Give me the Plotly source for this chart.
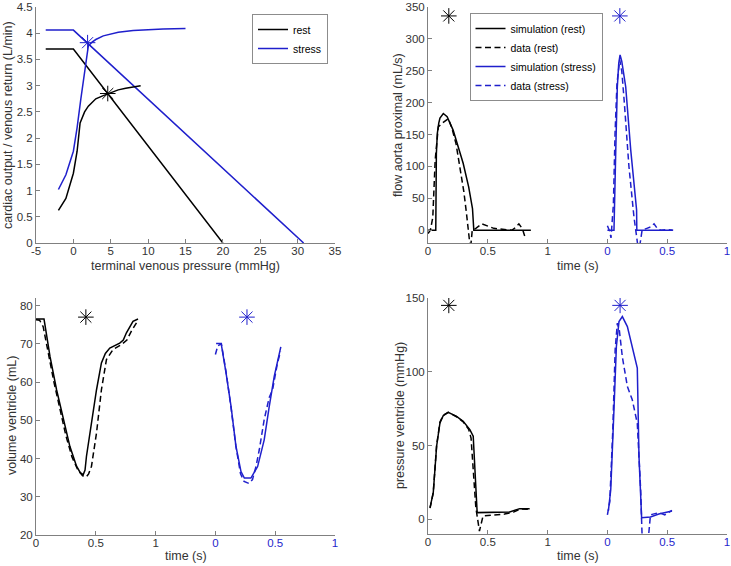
import numpy as np
import plotly.graph_objects as go

W, H = 731, 566
BLUE = "#1f1fcc"
BLACK = "#000000"
AXC = "#808080"
TXT = "#333333"
FONT = "Liberation Sans, Arial, Helvetica, sans-serif"

# ---------------- Panel 1: cardiac output / venous return ----------------
vr_rest_x = [-3.7, 0, 20]
vr_rest_y = [3.70, 3.70, 0]
vr_stress_x = [-3.7, 0, 30.8]
vr_stress_y = [4.06, 4.06, 0]
co_rest_x = [-2, -1, 0, 0.5, 0.9, 1.5, 2, 3, 4, 5, 6, 7, 8, 9]
co_rest_y = [0.62, 0.85, 1.33, 1.75, 2.29, 2.50, 2.61, 2.75, 2.81, 2.87, 2.92, 2.95, 2.98, 3.00]
co_stress_x = [-2, -1, 0, 0.5, 1, 1.5, 2, 2.5, 3, 4, 5, 6, 8, 10, 12, 15]
co_stress_y = [1.02, 1.30, 1.75, 2.20, 2.75, 3.30, 3.76, 3.83, 3.88, 3.95, 3.99, 4.02, 4.05, 4.07, 4.08, 4.09]
eq_rest = (4.6, 2.85)
eq_stress = (1.9, 3.82)
p1_xticks = [-5, 0, 5, 10, 15, 20, 25, 30, 35]
p1_xlabels = ["-5", "0", "5", "10", "15", "20", "25", "30", "35"]
p1_yticks = [0, 0.5, 1, 1.5, 2, 2.5, 3, 3.5, 4, 4.5]
p1_ylabels = ["0", "0.5", "1", "1.5", "2", "2.5", "3", "3.5", "4", "4.5"]

# ---------------- Panel 2: flow aorta proximal ----------------
flow_sim_rest_t = [0, 0.065, 0.07, 0.078, 0.09, 0.10, 0.128, 0.16, 0.21, 0.25, 0.294, 0.34, 0.372, 0.383, 0.86]
flow_sim_rest_y = [0, 0, 120, 152, 168, 176, 183, 178, 157, 133, 105, 68, 34, 0, 0]
flow_dat_rest_t = [0, 0.02, 0.04, 0.06, 0.086, 0.12, 0.17, 0.20, 0.235, 0.267, 0.30, 0.322, 0.34, 0.355,
                   0.37, 0.40, 0.45, 0.50, 0.55, 0.60, 0.65, 0.70, 0.73, 0.76, 0.79, 0.81]
flow_dat_rest_y = [-5, 0, 20, 110, 162, 168, 175, 160, 135, 100, 60, 26, 0, -30,
                   0, 3, 10, 6, 3, 2, 1, 0, 4, 10, 2, -10]
flow_sim_stress_t = [0, 0.055, 0.07, 0.083, 0.095, 0.106, 0.12, 0.153, 0.195, 0.236, 0.244, 0.246, 0.545]
flow_sim_stress_y = [0, 0, 126, 225, 262, 275, 265, 225, 126, 47, 32, 0, 0]
flow_dat_stress_t = [0, 0.02, 0.03, 0.05, 0.064, 0.08, 0.103, 0.12, 0.14, 0.18, 0.222, 0.24, 0.255, 0.27,
                     0.29, 0.33, 0.36, 0.39, 0.42, 0.45, 0.50, 0.55]
flow_dat_stress_y = [7, -2, -12, 40, 152, 230, 267, 250, 204, 100, 21, 0, -25, -25,
                     0, 3, 5, 10, 2, 0, 1, 0]
flow_star = (0.174, 0.104, 336)

# ---------------- Panel 3: volume ventricle ----------------
vol_sim_rest_t = [0, 0.067, 0.09, 0.117, 0.172, 0.228, 0.283, 0.339, 0.37, 0.395, 0.41, 0.422, 0.464,
                  0.506, 0.547, 0.58, 0.617, 0.66, 0.70, 0.73, 0.756, 0.811, 0.853]
vol_sim_rest_y = [76.5, 76.5, 72, 66.7, 58, 50.2, 43.2, 38, 36.3, 35.8, 37, 40.6, 49.3,
                  58, 65, 67.5, 68.9, 69.6, 70.2, 71, 72.9, 75.9, 76.5]
vol_dat_rest_t = [0, 0.03, 0.06, 0.10, 0.15, 0.20, 0.25, 0.30, 0.35, 0.39, 0.42, 0.44, 0.464,
                  0.506, 0.547, 0.589, 0.644, 0.714, 0.76, 0.80, 0.84]
vol_dat_rest_y = [76.3, 76.2, 74.5, 68, 60, 53, 46, 40.5, 37, 35.5, 35.2, 36, 38,
                  46.7, 58, 65.9, 68.5, 69.8, 71, 73.5, 75.5]
vol_sim_stress_t = [0.006, 0.048, 0.089, 0.131, 0.172, 0.214, 0.242, 0.297, 0.353, 0.408, 0.45, 0.492, 0.547]
vol_sim_stress_y = [70.1, 70.1, 62.4, 53.6, 43.2, 36.6, 34.9, 34.9, 37.9, 44.9, 53.6, 61.5, 69.2]
vol_dat_stress_t = [0, 0.02, 0.05, 0.09, 0.13, 0.17, 0.21, 0.24, 0.28, 0.31, 0.34, 0.367, 0.408,
                    0.45, 0.478, 0.519, 0.545]
vol_dat_stress_y = [67.2, 69.5, 70, 62.5, 53.5, 43.5, 36, 34, 33.5, 34.5, 38, 42.3, 50.2,
                    56, 58, 65, 68]
vol_star = (0.417, 0.264, 77)

# ---------------- Panel 4: pressure ventricle ----------------
p_sim_rest_t = [0.017, 0.044, 0.072, 0.10, 0.128, 0.169, 0.239, 0.294, 0.35, 0.378, 0.411, 0.683, 0.767, 0.85]
p_sim_rest_y = [7.9, 18, 49.5, 65.3, 70.3, 72.5, 69.8, 66.4, 60.8, 56.3, 4.5, 5, 7.2, 7.2]
p_dat_rest_t = [0.017, 0.044, 0.072, 0.10, 0.128, 0.169, 0.239, 0.294, 0.34, 0.36, 0.40, 0.43, 0.46,
                0.55, 0.64, 0.72, 0.77, 0.85]
p_dat_rest_y = [7.5, 18, 50, 66, 70.5, 72.5, 69.5, 66, 61, 55, 8, -8, 2.2,
                3, 3.5, 5, 7, 6.8]
p_sim_stress_t = [0.008, 0.028, 0.056, 0.075, 0.097, 0.125, 0.167, 0.208, 0.25, 0.264, 0.286, 0.36, 0.43, 0.54]
p_sim_stress_y = [5.6, 20, 76.6, 117, 134, 137.4, 130.6, 116, 102.5, 42.8, 1.1, 1.5, 3.5, 5.6]
p_dat_stress_t = [0, 0.02, 0.045, 0.065, 0.083, 0.10, 0.125, 0.167, 0.208, 0.25, 0.278, 0.29, 0.31,
                  0.34, 0.36, 0.43, 0.48, 0.54]
p_dat_stress_y = [3, 12, 60, 115, 133, 128, 110, 90, 81, 65, 20, -11, -20,
                  -15, 3, 4.5, 3, 6]
p_star = (0.174, 0.106, 145)

STRESS_OFFSET = 1.5
time_tickvals = [0, 0.5, 1, 1.5, 2, 2.5]
time_ticktext = ["0", "0.5", "1",
                 "<span style='color:%s'>0</span>" % BLUE,
                 "<span style='color:%s'>0.5</span>" % BLUE,
                 "<span style='color:%s'>1</span>" % BLUE]


def sx(t):
    return list(np.array(t) + STRESS_OFFSET)


fig = go.Figure()


def line(x, y, color, dash, xa, ya, name=None, legend=None, showlegend=False):
    fig.add_trace(go.Scatter(
        x=x, y=y, mode="lines", name=name,
        line=dict(color=color, width=1.5, dash=dash),
        xaxis=xa, yaxis=ya, showlegend=showlegend,
        legend=legend if legend else "legend", hoverinfo="skip"))


def star(x, y, color, xa, ya):
    fig.add_trace(go.Scatter(
        x=[x], y=[y], mode="markers",
        marker=dict(symbol="asterisk-open", size=13, color=color,
                    line=dict(color=color, width=1)),
        xaxis=xa, yaxis=ya, showlegend=False, hoverinfo="skip"))


DASH = "6px,3.5px"

# Panel 1
line(vr_rest_x, vr_rest_y, BLACK, "solid", "x", "y", "rest", "legend", True)
line(vr_stress_x, vr_stress_y, BLUE, "solid", "x", "y", "stress", "legend", True)
line(co_rest_x, co_rest_y, BLACK, "solid", "x", "y")
line(co_stress_x, co_stress_y, BLUE, "solid", "x", "y")
star(eq_rest[0], eq_rest[1], BLACK, "x", "y")
star(eq_stress[0], eq_stress[1], BLUE, "x", "y")

# Panel 2
line(flow_sim_rest_t, flow_sim_rest_y, BLACK, "solid", "x2", "y2", "simulation (rest)", "legend2", True)
line(flow_dat_rest_t, flow_dat_rest_y, BLACK, DASH, "x2", "y2", "data (rest)", "legend2", True)
line(sx(flow_sim_stress_t), flow_sim_stress_y, BLUE, "solid", "x2", "y2", "simulation (stress)", "legend2", True)
line(sx(flow_dat_stress_t), flow_dat_stress_y, BLUE, DASH, "x2", "y2", "data (stress)", "legend2", True)
star(flow_star[0], flow_star[2], BLACK, "x2", "y2")
star(flow_star[1] + STRESS_OFFSET, flow_star[2], BLUE, "x2", "y2")

# Panel 3
line(vol_sim_rest_t, vol_sim_rest_y, BLACK, "solid", "x3", "y3")
line(vol_dat_rest_t, vol_dat_rest_y, BLACK, DASH, "x3", "y3")
line(sx(vol_sim_stress_t), vol_sim_stress_y, BLUE, "solid", "x3", "y3")
line(sx(vol_dat_stress_t), vol_dat_stress_y, BLUE, DASH, "x3", "y3")
star(vol_star[0], vol_star[2], BLACK, "x3", "y3")
star(vol_star[1] + STRESS_OFFSET, vol_star[2], BLUE, "x3", "y3")

# Panel 4
line(p_sim_rest_t, p_sim_rest_y, BLACK, "solid", "x4", "y4")
line(p_dat_rest_t, p_dat_rest_y, BLACK, DASH, "x4", "y4")
line(sx(p_sim_stress_t), p_sim_stress_y, BLUE, "solid", "x4", "y4")
line(sx(p_dat_stress_t), p_dat_stress_y, BLUE, DASH, "x4", "y4")
star(p_star[0], p_star[2], BLACK, "x4", "y4")
star(p_star[1] + STRESS_OFFSET, p_star[2], BLUE, "x4", "y4")


def px_x(a, b):
    return [a / W, b / W]


def px_y(top, bottom):
    return [1 - bottom / H, 1 - top / H]


axis_common = dict(showline=True, linecolor=AXC, linewidth=1, mirror=False,
                   ticks="inside", ticklen=4, tickcolor=AXC, showgrid=False,
                   zeroline=False, tickfont=dict(size=11.5, color=TXT, family=FONT),
                   fixedrange=True)
xaxis_extra = dict(ticklabelstandoff=-3)

fig.update_layout(
    width=W, height=H, margin=dict(l=0, r=0, t=0, b=0, autoexpand=False),
    paper_bgcolor="white", plot_bgcolor="white",
    font=dict(family=FONT, color=TXT),
    hovermode=False,
    xaxis=dict(domain=px_x(36, 335), anchor="y", range=[-5, 35],
               tickvals=p1_xticks, ticktext=p1_xlabels, **axis_common, **xaxis_extra),
    yaxis=dict(domain=px_y(7, 243), anchor="x", range=[0, 4.5],
               tickvals=p1_yticks, ticktext=p1_ylabels, **axis_common),
    xaxis2=dict(domain=px_x(428, 727), anchor="y2", range=[0, 2.5],
                tickvals=time_tickvals, ticktext=time_ticktext, **axis_common, **xaxis_extra),
    yaxis2=dict(domain=px_y(7, 243), anchor="x2", range=[-20, 350],
                tickvals=[0, 50, 100, 150, 200, 250, 300, 350], **axis_common),
    xaxis3=dict(domain=px_x(36, 335), anchor="y3", range=[0, 2.5],
                tickvals=time_tickvals, ticktext=time_ticktext, **axis_common, **xaxis_extra),
    yaxis3=dict(domain=px_y(298, 535), anchor="x3", range=[20, 82],
                tickvals=[20, 30, 40, 50, 60, 70, 80], **axis_common),
    xaxis4=dict(domain=px_x(428, 727), anchor="y4", range=[0, 2.5],
                tickvals=time_tickvals, ticktext=time_ticktext, **axis_common, **xaxis_extra),
    yaxis4=dict(domain=px_y(298, 534), anchor="x4", range=[-10, 150],
                tickvals=[0, 50, 100, 150], **axis_common),
    legend=dict(x=328 / W, y=1 - 14 / H, xanchor="right", yanchor="top",
                bgcolor="white", bordercolor="#8c8c8c", borderwidth=1,
                font=dict(size=10.5, color="#000", family=FONT), itemwidth=30,
                tracegroupgap=0),
    legend2=dict(x=536 / W, y=1 - 13 / H, xanchor="center", yanchor="top",
                 bgcolor="white", bordercolor="#8c8c8c", borderwidth=1,
                 font=dict(size=10.5, color="#000", family=FONT), itemwidth=30,
                 tracegroupgap=0),
)

titles = [
    ("cardiac output / venous return (L/min)", 8, 125, 90),
    ("flow aorta proximal (mL/s)", 398, 125, 90),
    ("volume ventricle (mL)", 12, 416, 90),
    ("pressure ventricle (mmHg)", 400, 416, 90),
    ("terminal venous pressure (mmHg)", 185.5, 266, 0),
    ("time (s)", 577.5, 266, 0),
    ("time (s)", 185.5, 556, 0),
    ("time (s)", 577.5, 556, 0),
]
for text, xp, yp, rot in titles:
    fig.add_annotation(text=text, x=xp / W, y=1 - yp / H, xref="paper", yref="paper",
                       showarrow=False, textangle=-rot, xanchor="center", yanchor="middle",
                       font=dict(size=12.5, color=TXT, family=FONT))

fig.write_html("out.html", config={"displayModeBar": False, "staticPlot": True},
               post_script="document.body.style.margin='0px';document.body.style.padding='0px';")
